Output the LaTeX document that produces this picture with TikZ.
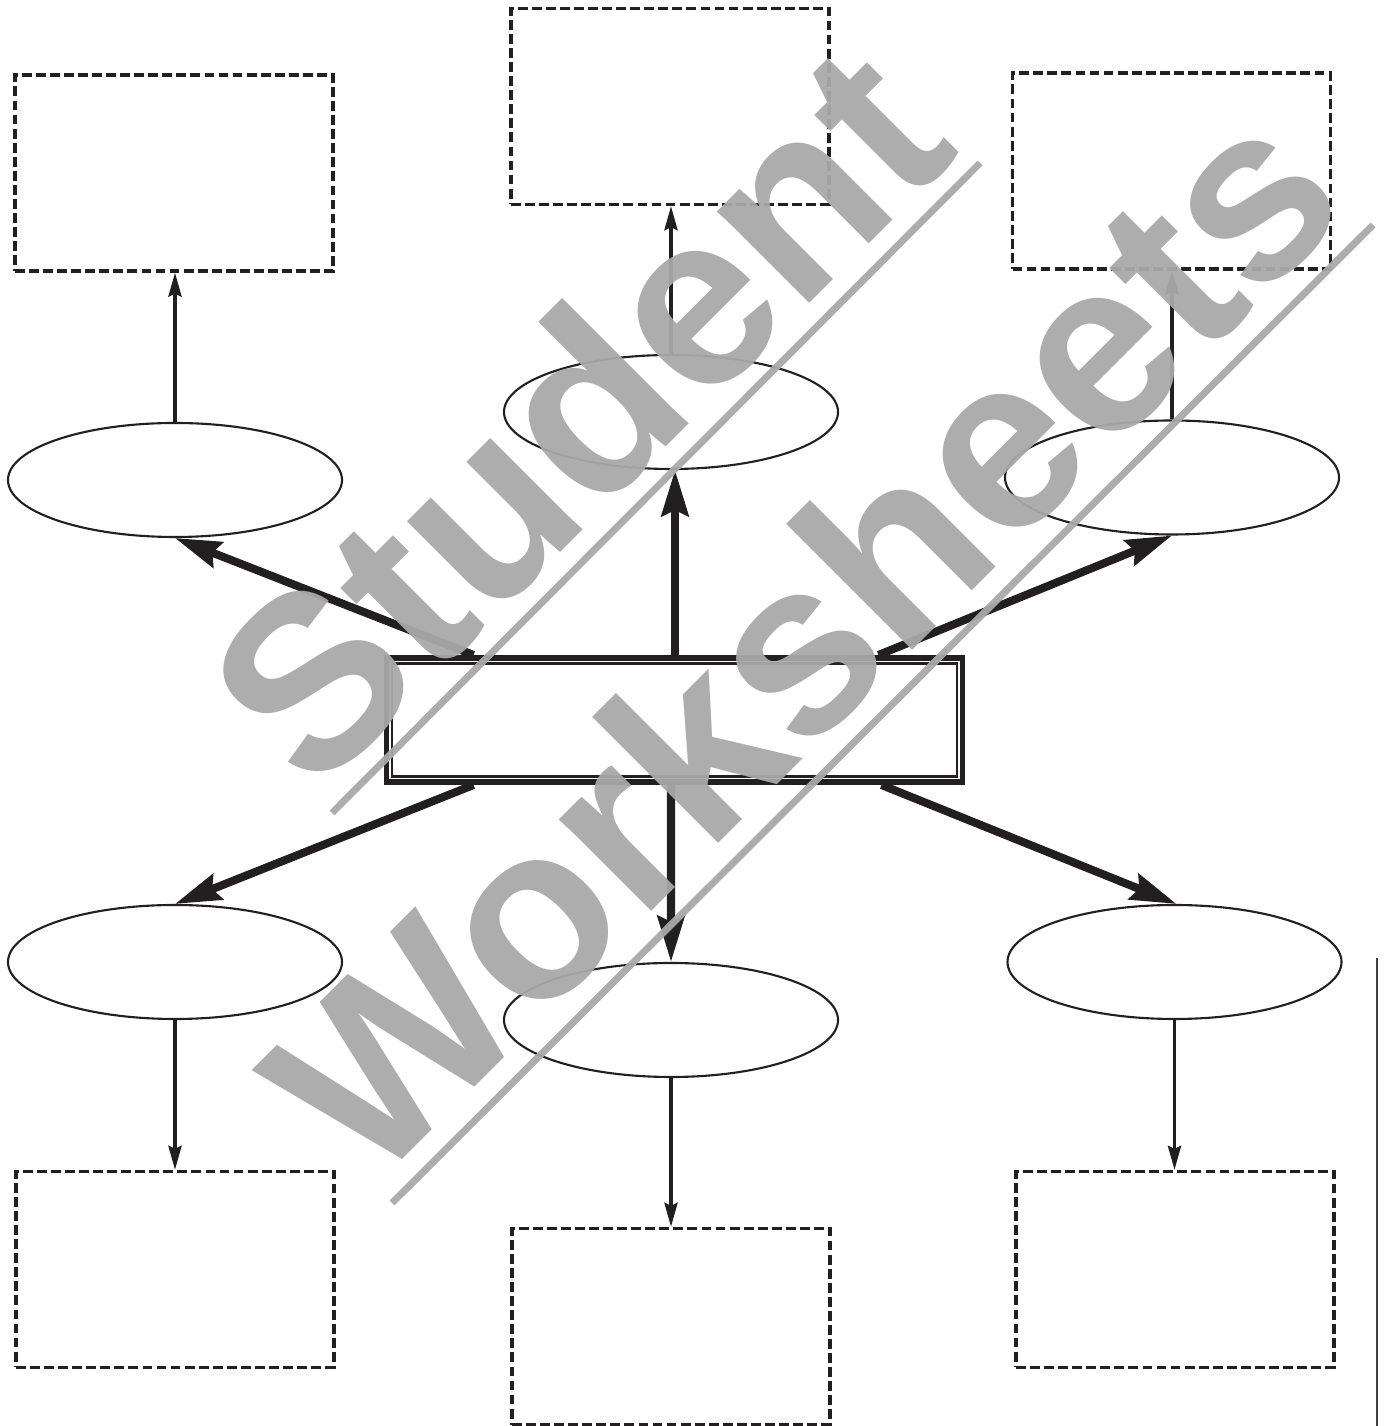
\documentclass[tikz,border=0pt]{standalone}
\usepackage{fontspec}
\setmainfont{Liberation Sans}
\definecolor{inkblack}{RGB}{35,31,32}
\definecolor{wmgray}{RGB}{169,169,169}
\usetikzlibrary{shapes.geometric,arrows.meta,positioning,calc}

\begin{document}
\begin{tikzpicture}[
    box/.style={rectangle, draw=inkblack, line width=0.9pt, dash pattern=on 2.8pt off 1.2pt, minimum width=3.18cm, minimum height=1.96cm, inner sep=0pt},
    oval/.style={ellipse, draw=inkblack, line width=0.6pt, minimum width=3.34cm, minimum height=1.14cm, inner sep=0pt},
    mainbox/.style={rectangle, draw=inkblack, line width=1.7pt, minimum width=5.76cm, minimum height=1.24cm, inner sep=0pt},
    arrow/.style={-{Stealth[length=2.4mm, width=1.3mm, inset=0.3mm]}, line width=1.1pt, inkblack},
    bigarrow/.style={-{Stealth[length=4.6mm, width=2.7mm, inset=0.6mm]}, line width=2.3pt, inkblack},
    wm/.style={text=wmgray, text opacity=0.95, font=\fontsize{70}{70}\selectfont\bfseries, rotate=45, inner sep=0pt},
    wmline/.style={wmgray, opacity=0.95, line width=2pt}
]
    \useasboundingbox (0,0) rectangle (13.84,14.26);

    % answer boxes
    \node[box] (r1) at (1.74,12.53) {};
    \node[box] (r2) at (6.70,13.195) {};
    \node[box] (r3) at (11.715,12.55) {};
    \node[box] (r4) at (1.75,1.565) {};
    \node[box] (r5) at (6.71,0.995) {};
    \node[box] (r6) at (11.75,1.565) {};

    % ovals
    \node[oval] (e1) at (1.75,9.46) {};
    \node[oval] (e2) at (6.71,10.14) {};
    \node[oval] (e3) at (11.72,9.485) {};
    \node[oval] (e4) at (1.75,4.64) {};
    \node[oval] (e5) at (6.71,4.06) {};
    \node[oval] (e6) at (11.745,4.64) {};

    % central topic
    \node[mainbox] (cb) at (6.745,7.06) {};
    \draw[inkblack, line width=0.6pt] ([shift={(0.085,0.085)}]cb.south west) rectangle ([shift={(-0.085,-0.085)}]cb.north east);

    \draw[bigarrow] ([xshift=0.9cm]cb.north west) -- (e1.south);
    \draw[bigarrow] ([xshift=0.005cm]cb.north) -- ([xshift=0.04cm]e2.south);
    \draw[bigarrow] ([xshift=-0.87cm]cb.north east) -- (e3.south);
    \draw[bigarrow] ([xshift=0.9cm]cb.south west) -- (e4.north);
    \draw[bigarrow] ([xshift=-0.035cm]cb.south) -- (e5.north);
    \draw[bigarrow] ([xshift=-0.84cm]cb.south east) -- ([xshift=0.02cm]e6.north);

    \draw[arrow] (e1.north) -- (e1.north |- r1.south);
    \draw[arrow] (e2.north) -- (e2.north |- r2.south);
    \draw[arrow] (e3.north) -- (e3.north |- r3.south);
    \draw[arrow] (e4.south) -- (e4.south |- r4.north);
    \draw[arrow] (e5.south) -- (e5.south |- r5.north);
    \draw[arrow] (e6.south) -- (e6.south |- r6.north);

    % page edge
    \coordinate (edge1) at (13.77,4.68);
    \coordinate (edge2) at (13.77,0);
    \draw[black!75, line width=0.6pt] (edge1) -- (edge2);

    % watermark
    \node[wm] (w1) at (5.76,10.13) {Student};
    \node[wm] (w2) at (8.01,7.89) {Worksheets};
    \coordinate (l1a) at (3.32,6.13);
    \coordinate (l1b) at (9.80,12.63);
    \coordinate (l2a) at (3.92,2.23);
    \coordinate (l2b) at (13.73,12.01);
    \draw[wmline] (l1a) -- (l1b);
    \draw[wmline] (l2a) -- (l2b);
\end{tikzpicture}
\end{document}
